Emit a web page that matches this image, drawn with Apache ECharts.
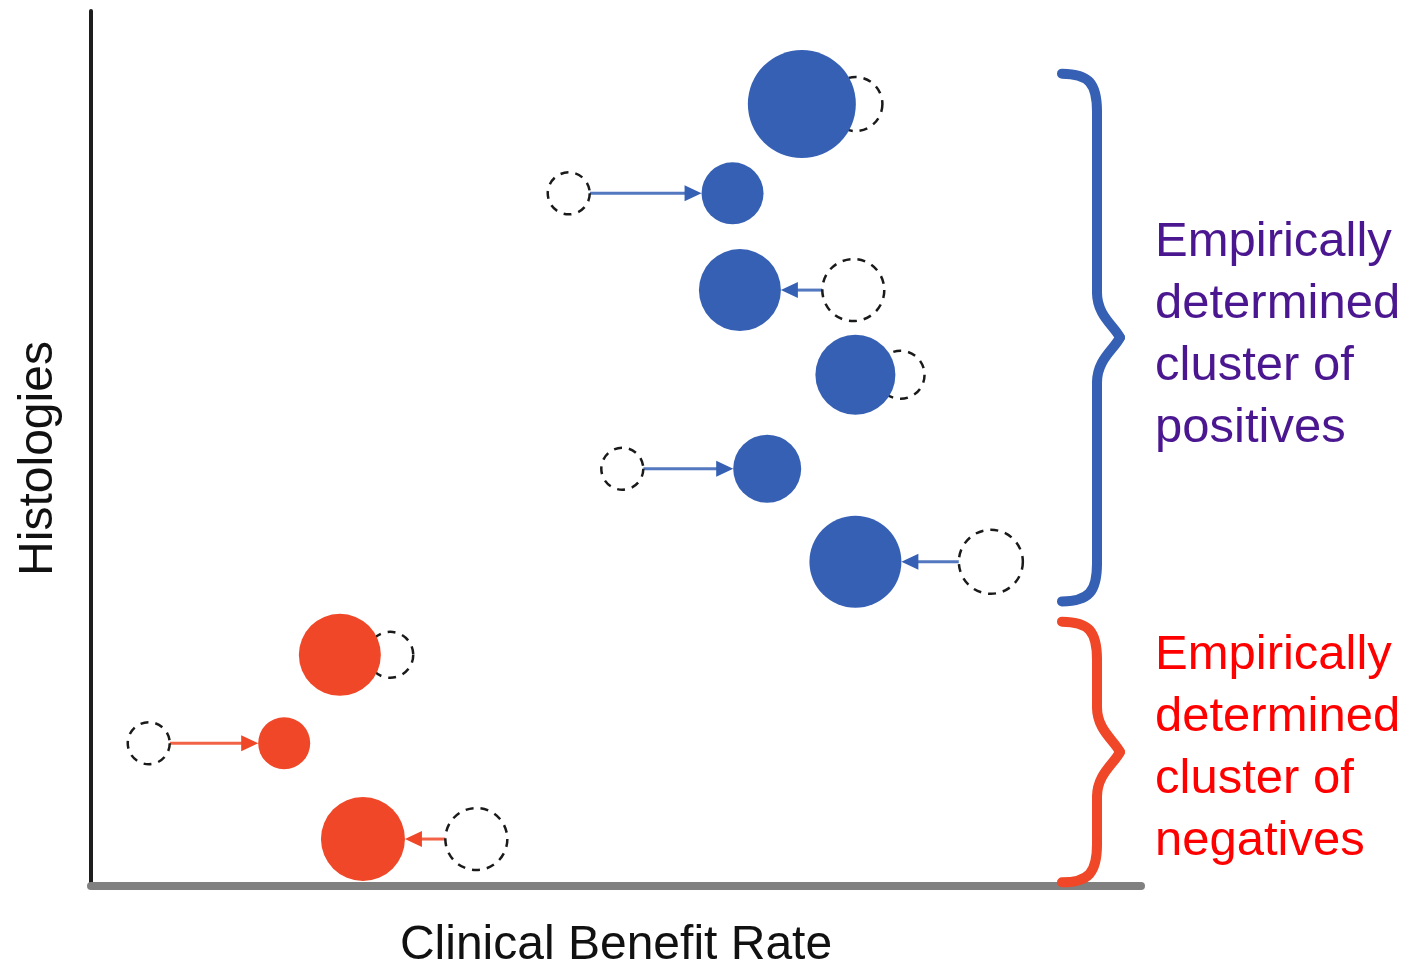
<!DOCTYPE html>
<html>
<head>
<meta charset="utf-8">
<script src="https://cdn.jsdelivr.net/npm/echarts@6/dist/echarts.min.js"></script>
<style>
html,body{margin:0;padding:0;background:#fff;overflow:hidden;}
#chart{width:1405px;height:965px;}
</style>
</head>
<body>
<div id="chart"></div>
<script>
// ---- data ----
// row position of each histology on the vertical axis
const rowPos      = [8.49, 7.52, 6.47, 5.55, 4.53, 3.52, 2.51, 1.55, 0.51];
// empirically determined clinical benefit rate (filled bubbles, %)
const observedCBR = [67.7, 61.1, 61.8, 72.8, 64.4, 72.8, 23.7, 18.4, 25.9];
// prior / expected clinical benefit rate (dashed bubbles, %)
const priorCBR    = [72.8, 45.5, 72.6, 77.1, 50.6, 85.7, 28.5, 5.5, 36.7];
// relative bubble weights
const observedWeight = [108, 62, 82, 80, 68, 92, 82, 52, 84];
const priorWeight    = [54, 42, 62, 48, 42, 64, 46, 42, 62];
// cluster membership: 0 = positives, 1 = negatives
const cluster     = [0, 0, 0, 0, 0, 0, 1, 1, 1];
// cluster extents on the vertical axis (for the braces)
const clusterTop    = [8.82, 2.87];
const clusterBottom = [3.09, 0.04];
const clusterLabels = ['Empirically\ndetermined\ncluster of\npositives',
                       'Empirically\ndetermined\ncluster of\nnegatives'];

// ---- styles ----
const FONT = 'Liberation Sans, Arial, sans-serif';
const clusterColor = ['#3660b4', '#ef4727'];
const labelColor   = ['#4b1790', '#ff0000'];

const chart = echarts.init(document.getElementById('chart'), null, {renderer: 'canvas', width: 1405, height: 965});

const rowsData = rowPos.map((y, i) => [priorCBR[i], observedCBR[i], y, priorWeight[i], observedWeight[i], cluster[i]]);

function arrowItem(params, api) {
  const y = api.value(2);
  const p0 = api.coord([api.value(0), y]);
  const p1 = api.coord([api.value(1), y]);
  const r0 = api.value(3) / 2, r1 = api.value(4) / 2;
  const dir = Math.sign(p1[0] - p0[0]) || 1;
  const sx = p0[0] + dir * r0;
  const ex = p1[0] - dir * r1;
  if ((ex - sx) * dir < 20) return null;
  const col = clusterColor[api.value(5)];
  const hl = 17, hw = 8;
  return {
    type: 'group',
    children: [
      {type: 'line', shape: {x1: sx, y1: p0[1], x2: ex - dir * (hl - 2), y2: p0[1]},
       style: {stroke: col, lineWidth: 3, opacity: 0.85}},
      {type: 'polygon', shape: {points: [[ex, p0[1]], [ex - dir * hl, p0[1] - hw], [ex - dir * hl, p0[1] + hw]]},
       style: {fill: col}}
    ]
  };
}

function braceItem(params, api) {
  const k = params.dataIndex;
  const pt = api.coord([100, api.value(0)]);
  const pb = api.coord([100, api.value(1)]);
  const xR = pt[0];
  const T = pt[1], B = pb[1], M = (T + B) / 2;
  const xl = xR - 79, xv = xR - 44, xt = xR - 21;
  const col = clusterColor[k];
  const st = {stroke: col, lineWidth: 10, fill: null, lineCap: 'round', lineJoin: 'round'};
  return {
    type: 'group',
    children: [
      {type: 'bezierCurve', shape: {x1: xl, y1: T, cpx1: xv - 8, cpy1: T, cpx2: xv, cpy2: T + 10, x2: xv, y2: T + 38}, style: st},
      {type: 'line', shape: {x1: xv, y1: T + 38, x2: xv, y2: M - 45}, style: st},
      {type: 'bezierCurve', shape: {x1: xv, y1: M - 45, cpx1: xv, cpy1: M - 22, cpx2: xt - 6, cpy2: M - 12, x2: xt, y2: M}, style: st},
      {type: 'bezierCurve', shape: {x1: xt, y1: M, cpx1: xt - 6, cpy1: M + 12, cpx2: xv, cpy2: M + 22, x2: xv, y2: M + 45}, style: st},
      {type: 'line', shape: {x1: xv, y1: M + 45, x2: xv, y2: B - 38}, style: st},
      {type: 'bezierCurve', shape: {x1: xv, y1: B - 38, cpx1: xv, cpy1: B - 10, cpx2: xv - 8, cpy2: B, x2: xl, y2: B}, style: st}
    ]
  };
}

const option = {
  backgroundColor: '#fff',
  animation: false,
  grid: {left: 91, right: 264, top: 11, bottom: 79, containLabel: false, outerBoundsMode: 'none'},
  xAxis: {
    type: 'value', min: 0, max: 100,
    name: 'Clinical Benefit Rate', nameLocation: 'middle', nameGap: 36,
    nameTextStyle: {fontFamily: FONT, fontSize: 48, color: '#111'},
    axisLine: {show: true, onZero: false, lineStyle: {color: '#808080', width: 8}},
    axisTick: {show: false}, axisLabel: {show: false}, splitLine: {show: false}
  },
  yAxis: {
    type: 'value', min: 0, max: 9.5,
    name: 'Histologies', nameLocation: 'middle', nameGap: 28, nameRotate: 90,
    nameTextStyle: {fontFamily: FONT, fontSize: 48, color: '#111', padding: [0, 20, 0, 0]},
    axisLine: {show: true, onZero: false, lineStyle: {color: '#1e1e1e', width: 4}},
    axisTick: {show: false}, axisLabel: {show: false}, splitLine: {show: false}
  },
  graphic: clusterLabels.map((t, i) => ({
    type: 'text', left: 1155, top: i === 0 ? 211 : 624, z: 10,
    style: {text: t, font: '49px ' + FONT, fill: labelColor[i], lineHeight: 62}
  })),
  series: [
    {
      type: 'custom', name: 'braces', z: 1, silent: true,
      data: clusterTop.map((t, i) => [t, clusterBottom[i]]),
      renderItem: braceItem, clip: false
    },
    {
      type: 'custom', name: 'shift', z: 2, silent: true,
      data: rowsData, renderItem: arrowItem
    },
    {
      type: 'scatter', name: 'prior', z: 3, silent: true,
      data: rowsData.map(d => [d[0], d[2], d[3]]),
      symbol: 'circle',
      symbolSize: v => v[2],
      itemStyle: {color: '#ffffff', borderColor: '#1a1a1a', borderWidth: 2.5, borderType: [8, 7], opacity: 1}
    },
    {
      type: 'scatter', name: 'observed', z: 4, silent: true,
      data: rowsData.map(d => ({value: [d[1], d[2], d[4]], itemStyle: {color: clusterColor[d[5]]}})),
      symbol: 'circle',
      symbolSize: v => v[2],
      itemStyle: {opacity: 1}
    }
  ]
};
chart.setOption(option);
</script>
</body>
</html>
